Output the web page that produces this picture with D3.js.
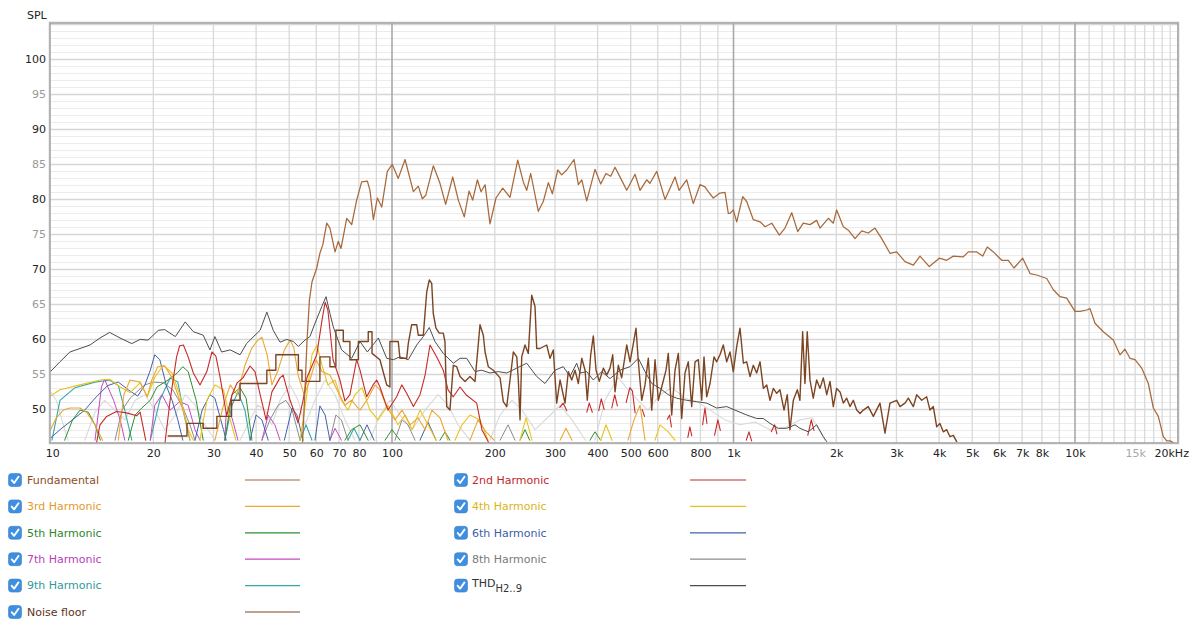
<!DOCTYPE html>
<html>
<head>
<meta charset="utf-8">
<script src="https://cdn.jsdelivr.net/npm/d3@7"></script>
<style>
  body { margin: 0; background: #fff; }
  svg { display: block; font-family: "DejaVu Sans", sans-serif; }
</style>
</head>
<body>
<svg id="chart" width="1203" height="619"></svg>
<script>
// ---- Axis ticks ----
const xTickFreqs  = [10,20,30,40,50,60,70,80,100,200,300,400,500,600,800,1000,2000,3000,4000,5000,6000,7000,8000,10000,15000,20000];
const xTickLabels = ["10","20","30","40","50","60","70","80","100","200","300","400","500","600","800","1k","2k","3k","4k","5k","6k","7k","8k","10k","15k","20kHz"];
const yTickValues = [50,55,60,65,70,75,80,85,90,95,100];

// ---- Measured curves: [frequency Hz, level dB SPL]; null breaks a trace ----
const fundamental = [[54.7,45.2],[55.6,52.8],[56.4,59.9],[57.3,65.6],[58.3,68.2],[60.2,70.2],[61.5,72.3],[62.7,73.5],[64.4,76.6],[65.8,75.9],[68.1,72.5],[69.6,74.0],[70.9,73.0],[73.7,77.3],[76.2,76.4],[78.8,79.9],[81.5,82.5],[84.7,82.6],[86.2,81.3],[88.2,77.1],[90.6,80.2],[93.3,78.9],[96.9,84.0],[100.2,85.0],[104.3,83.0],[109.2,85.7],[115.5,81.1],[119.4,81.9],[122.7,80.1],[125.6,80.6],[132.1,84.8],[138.2,82.3],[143.6,79.3],[150.6,83.2],[156.4,79.9],[162.8,77.5],[168.1,81.2],[172.3,79.9],[177.8,82.8],[182.3,81.1],[187.3,82.1],[193.6,76.5],[201.6,80.2],[211.0,81.6],[221.6,80.3],[233.4,85.6],[242.4,82.5],[248.0,81.3],[254.8,83.7],[268.2,78.3],[277.3,79.7],[287.0,82.4],[294.8,80.8],[305.7,84.2],[314.0,83.5],[324.8,84.2],[341.2,85.7],[351.3,82.1],[359.5,82.8],[371.7,79.8],[393.1,84.3],[408.5,82.2],[423.3,83.7],[436.9,83.3],[449.8,84.6],[467.5,83.0],[486.8,81.3],[514.8,83.6],[532.4,81.3],[557.0,82.8],[569.5,82.3],[596.0,84.0],[630.2,80.0],[674.2,83.2],[692.6,81.3],[729.4,82.8],[762.6,79.4],[797.8,82.1],[825.1,81.8],[843.7,81.1],[872.6,80.2],[912.9,80.9],[944.4,81.0],[965.6,78.0],[976.8,78.0],[998.6,78.5],[1022,76.8],[1064,80.4],[1093,79.7],[1143,77.1],[1196,76.8],[1237,76.1],[1294,76.6],[1362,74.9],[1415,75.9],[1481,78.1],[1542,75.4],[1601,76.6],[1675,76.4],[1752,77.0],[1792,75.9],[1895,77.3],[1960,76.6],[2005,78.5],[2097,76.1],[2169,75.6],[2269,74.4],[2374,75.5],[2481,75.2],[2596,75.9],[2716,74.4],[2872,72.3],[3005,72.5],[3178,71.1],[3362,70.6],[3517,71.9],[3745,70.4],[4006,71.6],[4210,71.3],[4402,71.9],[4709,71.8],[4871,72.5],[5155,72.5],[5368,71.9],[5537,73.2],[5766,72.5],[6101,71.3],[6378,71.3],[6628,70.2],[7029,71.6],[7386,69.4],[7727,69.2],[8264,68.7],[8641,67.1],[9039,66.1],[9456,65.9],[10000,64.0],[10343,64.0],[10820,64.2],[11064,64.4],[11444,62.3],[12101,61.1],[12948,59.9],[13545,57.8],[14009,58.6],[14490,57.3],[14986,57.1],[15682,55.9],[16394,53.7],[16958,50.2],[17538,49.0],[18139,46.1],[18558,45.5],[18976,45.5],[19500,45.2]];

const harmonic2 = [[13.6,44.9],[13.96,47.8],[14.6,49.0],[15.6,49.7],[16.7,49.5],[17.9,49.1],[18.3,49.6],[19.0,45.6],null,
  [21.6,44.9],[22.4,51.3],[23.4,57.5],[23.9,59.1],[24.5,59.2],[25.3,57.5],[26.2,55.2],[27.4,53.5],[28.7,55.4],[29.7,58.2],[30.5,57.6],[31.4,54.5],[32.8,49.1],[34.0,52.1],[35.2,53.8],[36.6,54.5],[38.4,56.2],[39.7,55.4],[41.1,52.1],[42.8,48.5],[44.5,52.5],[47.0,54.5],[48.0,54.9],[50.3,51.3],[53.1,48.1],[54.9,51.3],[56.4,54.6],[60.2,57.8],[62.4,62.8],[63.7,65.3],[64.9,64.2],[67.2,57.1],[70.4,54.2],[72.8,51.2],[75.3,52.1],[78.8,57.1],[80.6,55.6],[84.3,51.8],[88.0,53.5],[90.2,54.2],[92.2,53.2],[97.3,49.9],[103.2,51.8],[106.8,53.5],[110.4,52.3],[115.5,50.4],[120.8,52.1],[125.0,54.9],[129.2,59.2],[135.2,57.5],[141.3,55.6],[145.9,52.8],[151.2,51.8],[158.2,53.2],[164.7,52.1],[177.0,50.9],[183.4,47.1],[193.6,44.9],null,
  [310,50.3],[317,50.9],[325,49.8],null,[372,49.6],[378,50.9],[386,49.6],null,[403,49.8],[410,51.5],[418,50.0],null,[440,50.2],[449,52.1],[457,50.5],null,[485,51.0],[497,53.1],[506,52.6],[515,49.5],null,[540,50.0],[549,49.0],null,[640,48.6],[650,49.2],[658,47.5],null,[735,46.0],[745,47.5],[755,46.2],null,[812,47.8],[825,50.2],[836,48.0],null,[880,46.3],[900,48.5],[915,47.0],null,[1090,45.6],[1110,46.8],[1130,45.5],null,[1290,46.8],[1320,47.8],[1340,46.5],null,[1650,46.3],[1690,48.5],[1720,47.0]];

const harmonic3 = [[10,47.1],[10.4,48.8],[10.9,49.9],[11.4,50.2],[12.2,50.2],[12.8,49.5],[13.5,47.8],[14.2,45.6],null,
  [15.8,45.6],[16.4,52.1],[17.1,54.2],[18.3,53.9],[19.2,51.8],[19.8,54.2],[20.6,56.1],[21.6,56.2],[22.7,54.5],[23.9,51.3],[24.9,48.5],[25.6,45.6],null,
  [30.3,45.6],[32.1,50.6],[33.6,53.5],[35.2,52.1],[37.1,56.3],[38.9,58.8],[40.5,59.9],[41.6,60.3],[43.1,57.8],[44.5,53.5],[46.4,55.6],[48.4,58.5],[50.3,59.9],[51.6,58.8],[53.1,54.9],[55.3,52.1],[57.5,54.2],[59.9,57.1],[62.4,55.4],[65.8,54.9],[69.5,52.5],[72.8,50.6],[76.1,51.3],[80.6,49.9],[85.1,51.6],[89.2,53.5],[92.2,52.8],[96.0,50.6],[102.0,48.5],[107.0,49.9],[112.9,47.8],[119.2,48.8],[125.0,47.1],[130.9,49.9],[138.2,48.8],[145.9,45.6],null,
  [169.2,45.6],[178.6,48.5],[188.5,46.8],[199.0,45.6],null,[310.5,45.6],[323.2,47.3],[336.6,45.6],null,[491.0,45.6],[511.2,48.5],[532.4,50.6],[550.7,45.6]];

const harmonic4 = [[10,51.9],[10.66,52.8],[12.2,53.5],[14.0,54.2],[14.9,54.3],[16.0,53.2],[17.1,52.4],[18.3,53.8],[19.2,51.8],[20.2,54.6],[21.4,56.3],[22.7,55.2],[23.9,52.1],[25.3,47.1],[26.2,45.6],null,
  [27.4,45.6],[28.7,51.3],[30.3,53.5],[32.1,52.8],[33.6,48.5],[34.9,45.6],null,
  [53.8,45.6],[56.0,51.3],[58.3,57.8],[60.3,59.2],[62.4,56.3],[64.9,53.5],[68.1,54.2],[71.1,51.3],[74.3,49.9],[77.9,52.1],[81.7,53.1],[86.2,49.9],[91.0,48.5],[97.3,50.6],[104.1,47.8],[109.2,49.2],[114.5,47.1],[120.8,49.9],[127.5,47.8],[134.6,45.6],null,
  [152.9,45.6],[160.3,47.8],[169.2,49.2],[181.0,48.5],[191.1,45.6],null,[237.1,45.6],[246.8,48.8],[257.0,45.6],null,[408.5,45.6],[423.3,47.8],[441.0,45.6],null,[589.1,45.6],[609.3,47.8],[644.3,46.8],[674.2,45.6]];

const harmonic5 = [[11.0,45.6],[11.6,48.5],[12.2,49.9],[12.9,49.6],[13.5,47.8],[14.0,45.6],null,
  [16.9,45.6],[17.7,49.2],[18.5,50.2],[19.6,51.3],[20.5,53.2],[22.1,54.2],[23.5,55.2],[24.4,56.1],[25.3,55.4],[26.7,51.3],[28.0,45.6],null,
  [32.4,45.6],[34.0,52.1],[35.9,53.1],[37.4,51.6],[38.9,45.6],null,[72.8,45.6],[76.1,47.1],[80.6,47.8],[85.1,45.6],null,
  [95.4,45.6],[100,47.1],[105.5,45.6],null,[138.2,45.6],[143.0,46.8],[147.8,45.6],null,[237.1,45.6],[245.2,47.1],[253,45.6],null,[380,45.6],[393,46.8],[408,45.6]];

const harmonic6 = [[10,45.9],[10.66,47.1],[11.8,48.8],[12.6,49.9],[13.5,51.6],[14.7,53.4],[15.8,53.9],[16.9,52.8],[18.0,51.9],[18.9,53.5],[19.6,55.6],[20.2,57.8],[20.9,57.1],[21.9,53.2],[22.7,51.3],[23.6,48.5],[24.4,45.6],null,
  [26.5,45.6],[27.8,49.9],[29.3,52.1],[30.3,51.6],[32.1,47.1],[32.7,45.6],null,[38.4,45.6],[40.0,49.2],[41.6,48.5],[43.4,45.6],null,
  [48.4,45.6],[51.0,50.2],[52.7,49.2],[54.9,45.6],null,[59.5,45.6],[61.5,50.5],[63.7,49.2],[65.8,45.6],null,
  [80.6,45.6],[84.5,47.8],[88.6,45.6],null,[120.8,45.6],[127.5,48.2],[134.6,45.6]];

const harmonic7 = [[13.5,45.6],[14.1,53.2],[14.4,54.3],[15.3,51.3],[16.0,48.5],[16.5,45.6],null,
  [19.6,45.6],[20.2,50.6],[21.2,52.1],[22.4,49.9],[23.9,51.1],[25.3,50.6],[26.5,47.1],[27.4,45.6],null,
  [32.4,45.6],[32.7,49.6],[34.0,48.8],[35.4,45.6],null,[41.6,45.6],[43.4,49.2],[45.4,47.8],[47.0,45.6],null,
  [65.8,45.6],[68.1,47.3],[71.1,45.6]];

const harmonic8 = [[15.45,45.6],[16.2,49.9],[17.1,51.6],[17.9,52.5],[18.9,53.5],[20.0,53.9],[21.4,53.8],[22.8,52.8],[24.4,50.3],[25.6,47.8],[26.5,45.6],null,
  [41.6,45.6],[43.9,48.5],[46.4,50.6],[48.9,51.3],[51.0,49.9],[53.8,45.6],null,[65.8,45.6],[68.5,49.2],[71.1,48.5],[74.3,45.6],null,
  [102.0,45.6],[107.0,48.5],[111.4,47.8],[116.8,45.6],null,[207.2,45.6],[218.7,47.8],[229.2,45.6]];

const harmonic9 = [[10.1,45.6],[10.66,51.3],[11.8,53.1],[13.5,53.9],[14.9,54.2],[15.8,53.4],[16.5,49.9],[17.3,45.6],null,
  [19.6,45.6],[20.9,51.3],[22.4,54.5],[23.6,53.9],[24.8,48.5],[25.6,45.6],null,
  [32.4,45.6],[34.0,50.6],[35.4,52.5],[37.1,49.9],[38.4,45.6],null,[53.8,45.6],[56.0,47.8],[58.3,45.6],null,[74.3,45.6],[77.4,47.3],[80.6,45.6]];

const thd = [[10,55.4],[10.66,56.8],[11.4,58.2],[12.2,58.7],[13.05,59.2],[13.96,60.2],[14.9,61.0],[15.98,60.2],[17.3,59.4],[18.3,60.0],[19.3,59.9],[20.7,61.3],[21.6,61.4],[23.2,60.4],[24.8,62.5],[26.2,61.1],[28.0,60.6],[29.3,58.5],[30.3,60.4],[31.7,58.2],[33.6,58.5],[35.9,57.8],[37.5,59.4],[39.7,60.6],[41.1,61.3],[43.0,63.9],[44.9,61.3],[47.0,59.6],[49.2,60.0],[51.4,59.7],[53.2,59.0],[55.6,59.9],[57.5,60.4],[59.5,62.3],[62.3,64.7],[64.1,66.1],[65.8,63.7],[67.3,61.8],[71.2,58.5],[76.2,57.3],[80.6,59.7],[84.7,58.2],[91.2,60.2],[96.5,57.3],[100.9,57.1],[105.5,57.5],[111.6,57.1],[118.1,59.2],[123.5,60.4],[128.6,61.7],[133.6,59.7],[141.3,58.0],[151.2,56.6],[158.2,57.3],[165.5,57.3],[175.0,55.4],[183.1,55.6],[193.6,55.2],[204.8,55.4],[216.7,55.2],[231.9,55.9],[248.0,56.6],[265.3,54.7],[280.5,53.7],[300.1,55.6],[317.4,56.1],[332.0,54.7],[347.4,56.6],[355.2,55.2],[371.7,55.4],[388.6,54.2],[411.3,55.4],[434.9,54.4],[465.4,55.6],[497.8,56.1],[526.4,57.3],[550.7,55.4],[576.3,53.7],[609.3,53.0],[644.3,52.1],[681.9,51.6],[729.4,51.3],[780.1,51.1],[834.6,50.9],[892.7,50.2],[955.2,50.4],[1010,49.9],[1093,49.2],[1169,48.7],[1223,48.7],[1279,48.0],[1353,47.3],[1432,47.3],[1514,47.8],[1565,47.3],[1656,46.8],[1752,47.8],[1832,46.1],[1875,45.4]];

const noiseFloor = [[22.1,46.2],[25.1,46.2],[25.1,48.0],[28.0,48.0],[28.0,47.3],[30.7,47.3],[30.7,49.0],[33.9,49.0],[33.9,51.3],[35.9,51.3],[35.9,53.7],[43.0,53.7],[43.0,55.6],[45.7,55.6],[45.7,57.8],[53.2,57.8],[53.2,55.6],[54.5,55.6],[54.5,54.0],[61.5,54.0],[61.5,57.5],[65.8,57.5],[65.8,56.1],[68.5,56.1],[68.5,61.3],[72.0,61.3],[72.0,59.7],[75.3,59.7],[75.3,57.1],[79.7,57.1],[79.7,59.7],[85.2,59.7],[85.2,61.1],[87.4,61.1],[87.4,58.0],[92.2,57.1],[96.5,53.5],[98.6,53.2],[98.6,59.7],[104.3,59.7],[105.5,57.3],[110.4,57.3],[111.6,59.4],[114.2,62.1],[118.1,62.1],[119.4,60.6],[123.5,60.6],[126.4,66.8],[128.6,68.5],[130.7,68.0],[132.1,63.7],[134.5,61.6],[137.5,60.9],[141.3,60.9],[142.9,59.7],[144.6,50.4],[147.8,49.9],[151.2,56.3],[154.7,56.1],[158.2,54.7],[163.6,54.0],[169.2,54.7],[175.0,54.0],[181.0,62.1],[185.1,60.6],[187.3,58.2],[191.4,56.1],[198.0,55.6],[207.2,54.5],[211.8,51.1],[216.7,50.4],[221.6,54.2],[226.6,58.2],[231.9,57.5],[234.4,54.2],[237.1,48.5],[239.8,57.5],[245.2,59.2],[250.7,58.0],[256.5,66.3],[262.3,64.7],[265.3,58.7],[271.3,58.7],[283.8,59.2],[290.2,57.3],[296.7,58.5],[303.6,50.9],[310.5,54.2],[321.1,50.9],[328.3,55.4],[335.9,54.2],[343.5,55.6],[351.3,53.7],[359.5,57.3],[367.6,55.6],[373.2,51.3],[381.8,57.8],[388.6,60.5],[395.8,55.6],[404.6,54.0],[415.8,55.9],[425.4,54.9],[434.9,55.9],[442.9,57.8],[449.8,52.5],[459.9,56.3],[470.5,54.5],[486.8,59.2],[497.8,56.8],[509.0,59.4],[518.3,61.6],[526.4,56.8],[538.6,51.3],[550.7,53.5],[563.0,57.3],[576.3,49.9],[589.1,57.1],[602.4,51.3],[616.3,53.2],[634.5,55.6],[644.3,58.0],[659.2,49.2],[674.2,55.6],[689.4,58.0],[705.3,48.7],[721.1,55.2],[737.4,56.8],[754.4,50.4],[771.5,56.8],[788.8,57.1],[807.2,51.3],[819.7,57.5],[834.6,51.8],[853.6,53.7],[876.9,57.5],[892.7,56.8],[912.9,57.8],[933.4,59.2],[955.2,56.8],[976.8,58.2],[998.6,55.4],[1022,59.0],[1045,61.6],[1069,56.6],[1093,56.8],[1118,54.7],[1143,56.3],[1169,55.2],[1196,56.8],[1223,53.0],[1251,53.5],[1279,51.3],[1308,53.0],[1338,52.3],[1368,52.8],[1406,49.9],[1437,52.1],[1463,47.1],[1497,51.3],[1538,52.8],[1565,51.3],[1594,61.1],[1619,53.7],[1644,61.1],[1675,54.2],[1712,51.6],[1752,54.2],[1792,53.0],[1832,54.5],[1875,52.1],[1917,54.0],[1960,50.4],[2005,53.0],[2051,52.5],[2097,50.9],[2145,51.6],[2193,50.4],[2243,51.3],[2295,49.9],[2347,49.4],[2399,49.9],[2481,50.4],[2567,49.0],[2685,50.9],[2777,46.6],[2872,50.9],[3005,51.3],[3073,50.4],[3178,50.9],[3251,51.6],[3362,50.4],[3439,52.1],[3557,51.3],[3679,51.8],[3762,49.9],[3847,50.4],[3936,47.5],[4022,48.0],[4114,46.8],[4210,47.1],[4305,46.1],[4402,46.3],[4503,45.4]];

// faint residual trace drawn beneath the harmonics
const residual = [[10,52.5],[10.4,51.3],[10.8,48.5],[11.25,45.6],null,
  [12.6,45.6],[13.5,49.6],[14.4,51.3],[15.45,49.9],[16.5,48.5],[17.7,51.3],[18.9,52.1],[20.2,49.9],[21.6,47.1],[23.2,49.2],[24.8,52.1],[26.5,50.6],[28.3,47.8],[30.3,45.6],null,
  [35.9,45.6],[38.4,48.5],[40.5,50.6],[42.5,49.9],[44.5,47.8],[47.0,51.3],[50.3,53.5],[53.1,51.3],[55.6,47.8],[59.5,51.3],[63.7,54.2],[68.1,52.1],[72.8,48.5],[77.9,45.6],null,
  [86.2,45.6],[92.2,49.2],[98.6,51.3],[105.5,49.2],[114.5,47.1],[125.0,49.9],[136.4,52.1],[145.9,50.6],[156.1,47.8],[169.2,45.6],null,
  [193.6,45.6],[207.2,49.2],[224.6,51.3],[240.3,49.9],[262.3,47.1],[291.1,49.2],[310.5,50.6],[336.6,48.5],[368.6,45.6],null,
  [393,45.6],[420.5,51.3],[459.0,54.6],[491.0,52.8],[525.2,51.3],[562.0,49.9],[609.3,52.1],[660.6,53.1],[721.1,51.6],[781.7,51.1],[853.6,49.9],[944.4,48.5],[1045,47.8],[1156,48.2],[1279,47.1],[1415,47.4],[1565,48.5],[1698,48.8],[1854,45.6]];

// ---- Series styling ----
const series = [
  { name: "Fundamental",  data: fundamental, color: "#a8693a", width: 1.25, legendText: "#8a4d22" },
  { name: "2nd Harmonic", data: harmonic2,   color: "#c62b2b", width: 1.1,  legendText: "#c0282a" },
  { name: "3rd Harmonic", data: harmonic3,   color: "#eca734", width: 1.1,  legendText: "#e39a2c" },
  { name: "4th Harmonic", data: harmonic4,   color: "#e8c51c", width: 1.1,  legendText: "#d9b615" },
  { name: "5th Harmonic", data: harmonic5,   color: "#2f8f2f", width: 1.0,  legendText: "#2e862e" },
  { name: "6th Harmonic", data: harmonic6,   color: "#3f62aa", width: 1.0,  legendText: "#3b5ea8" },
  { name: "7th Harmonic", data: harmonic7,   color: "#c548c5", width: 1.0,  legendText: "#b941b9" },
  { name: "8th Harmonic", data: harmonic8,   color: "#8c8c8c", width: 1.0,  legendText: "#7a7a7a" },
  { name: "9th Harmonic", data: harmonic9,   color: "#37a7a7", width: 1.1,  legendText: "#2f9a9a" },
  { name: "THD",          data: thd,         color: "#4d4d4d", width: 1.0,  legendText: "#333333" },
  { name: "Noise floor",  data: noiseFloor,  color: "#7c4522", width: 1.4,  legendText: "#5e3418" }
];

// ---- Layout ----
const svg = d3.select("#chart");
const plot = { left: 50, top: 23, right: 1178, bottom: 443 };

const x = d3.scaleLog().domain([10, 20000]).range([50.5, 1177.8]);
const y = d3.scaleLinear().domain([45.2, 105.2]).range([plot.bottom, plot.top]);

svg.append("rect").attr("width", 1203).attr("height", 619).attr("fill", "#fff");

svg.append("defs").append("clipPath").attr("id", "plotClip")
  .append("rect")
  .attr("x", plot.left).attr("y", plot.top)
  .attr("width", plot.right - plot.left).attr("height", plot.bottom - plot.top);

// Plot background
svg.append("rect")
  .attr("x", plot.left).attr("y", plot.top)
  .attr("width", plot.right - plot.left).attr("height", plot.bottom - plot.top)
  .attr("fill", "#ffffff");

const grid = svg.append("g").attr("clip-path", "url(#plotClip)");

// Horizontal grid: every dB, heavier every 5 dB
const hLines = d3.range(46, 106, 1);
grid.selectAll("line.h").data(hLines).join("line")
  .attr("x1", plot.left).attr("x2", plot.right)
  .attr("y1", d => Math.round(y(d)) + 0.5).attr("y2", d => Math.round(y(d)) + 0.5)
  .attr("stroke", d => d % 5 === 0 ? "#d6d6d6" : "#ececec")
  .attr("stroke-width", d => d % 5 === 0 ? 1.4 : 1);

// Vertical grid: 1..9 per decade, every 1 kHz above 10 kHz
const vLines = [];
[10, 100, 1000].forEach(dec => { for (let k = 1; k <= 9; k++) vLines.push(dec * k); });
for (let f = 10000; f <= 20000; f += 1000) vLines.push(f);
const decades = new Set([100, 1000, 10000]);
grid.selectAll("line.v").data(vLines.filter(f => f > 10)).join("line")
  .attr("x1", d => x(d)).attr("x2", d => x(d))
  .attr("y1", plot.top).attr("y2", plot.bottom)
  .attr("stroke", d => decades.has(d) ? "#a9a9a9" : "#d9d9d9")
  .attr("stroke-width", d => decades.has(d) ? 1.6 : 1.3);

// ---- Curves ----
const line = d3.line()
  .defined(d => d !== null)
  .x(d => x(d[0]))
  .y(d => y(d[1]));

const curves = svg.append("g").attr("clip-path", "url(#plotClip)").attr("fill", "none")
  .attr("stroke-linejoin", "round").attr("stroke-linecap", "round");

curves.append("path").attr("d", line(residual)).attr("stroke", "#d9d9d9").attr("stroke-width", 1.1);

const drawOrder = ["9th Harmonic","8th Harmonic","7th Harmonic","6th Harmonic","5th Harmonic","4th Harmonic","3rd Harmonic","2nd Harmonic","THD","Noise floor","Fundamental"];
drawOrder.forEach(n => {
  const s = series.find(d => d.name === n);
  curves.append("path").attr("d", line(s.data))
    .attr("stroke", s.color).attr("stroke-width", s.width);
});

// Frame
svg.append("rect")
  .attr("x", plot.left - 1).attr("y", plot.top - 1)
  .attr("width", plot.right - plot.left + 2).attr("height", plot.bottom - plot.top + 2)
  .attr("fill", "none").attr("stroke", "#dedede").attr("stroke-width", 1);
svg.append("rect")
  .attr("x", plot.left).attr("y", plot.top)
  .attr("width", plot.right - plot.left).attr("height", plot.bottom - plot.top)
  .attr("fill", "none").attr("stroke", "#a4a4a4").attr("stroke-width", 1.6);

// ---- Axes ----
const yAxis = d3.axisLeft(y).tickValues(yTickValues).tickSize(0).tickPadding(4);
const gy = svg.append("g").attr("transform", `translate(${plot.left},0)`).call(yAxis);
gy.select(".domain").remove();
gy.selectAll("text")
  .attr("font-family", "DejaVu Sans, sans-serif").attr("font-size", 11)
  .attr("fill", d => d % 10 === 0 ? "#222" : "#9a9a9a");

const xAxis = d3.axisBottom(x).tickValues(xTickFreqs)
  .tickFormat((d, i) => xTickLabels[i]).tickSize(0).tickPadding(5);
const gx = svg.append("g").attr("transform", `translate(0,${plot.bottom + 1})`).call(xAxis);
gx.select(".domain").remove();
gx.selectAll("text")
  .attr("font-family", "DejaVu Sans, sans-serif").attr("font-size", 11)
  .attr("fill", d => d === 15000 ? "#a8a8a8" : "#222");
gx.selectAll(".tick").filter(d => d === 20000).select("text").attr("dx", "-0.6em");
gx.selectAll(".tick").filter(d => d === 10).select("text").attr("dx", "0.15em");

svg.append("text").attr("x", 27).attr("y", 19)
  .attr("font-size", 11).attr("fill", "#222").text("SPL");

// ---- Legend ----
const legendLayout = [
  ["Fundamental", 0, 0], ["2nd Harmonic", 1, 0],
  ["3rd Harmonic", 0, 1], ["4th Harmonic", 1, 1],
  ["5th Harmonic", 0, 2], ["6th Harmonic", 1, 2],
  ["7th Harmonic", 0, 3], ["8th Harmonic", 1, 3],
  ["9th Harmonic", 0, 4], ["THD", 1, 4],
  ["Noise floor", 0, 5]
];
const colX = [{ box: 8.5, text: 27, l1: 245, l2: 300 }, { box: 454.5, text: 472, l1: 690, l2: 746 }];
const rowY = r => 480 + r * 26.4;

const legend = svg.append("g");
legendLayout.forEach(([name, c, r]) => {
  const s = series.find(d => d.name === name);
  const cy = rowY(r);
  const g = legend.append("g");
  g.append("rect").attr("x", colX[c].box).attr("y", cy - 6.5)
    .attr("width", 13).attr("height", 13).attr("rx", 3)
    .attr("fill", "#3f8fe0").attr("stroke", "#3a7fc8").attr("stroke-width", 0.6);
  g.append("path")
    .attr("d", `M${colX[c].box + 3.2},${cy + 0.2} L${colX[c].box + 5.6},${cy + 3} L${colX[c].box + 10},${cy - 3.2}`)
    .attr("fill", "none").attr("stroke", "#fff").attr("stroke-width", 1.9)
    .attr("stroke-linecap", "round").attr("stroke-linejoin", "round");
  const t = g.append("text").attr("x", colX[c].text).attr("y", cy + 3.8)
    .attr("font-size", 11).attr("fill", s.legendText);
  if (name === "THD") {
    t.attr("y", cy + 1);
    t.append("tspan").text("THD");
    t.append("tspan").attr("dy", 5).attr("font-size", 10).text("H2..9");
  } else {
    t.text(name);
  }
  g.append("line").attr("x1", colX[c].l1).attr("x2", colX[c].l2)
    .attr("y1", cy).attr("y2", cy)
    .attr("stroke", s.color).attr("stroke-width", name === "THD" ? 1.4 : 1.2);
});
</script>
</body>
</html>
